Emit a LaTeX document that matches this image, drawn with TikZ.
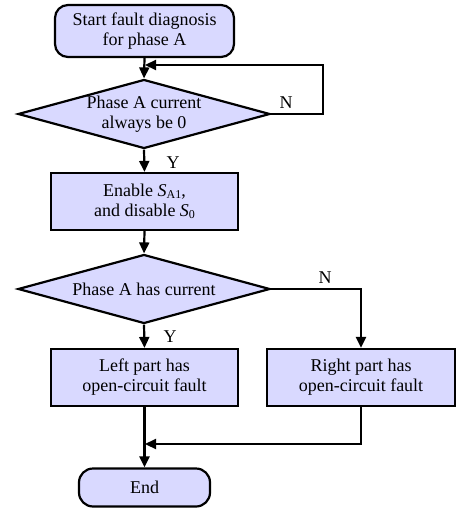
\documentclass[tikz,border=0pt]{standalone}
\usepackage{fontspec}
\setmainfont{Liberation Serif}
\usetikzlibrary{shapes.geometric,arrows.meta}
\definecolor{boxfill}{RGB}{217,217,255}
\newcommand{\subsc}[1]{\raisebox{-0.25ex}{\fontsize{12}{12}\selectfont #1}}
\begin{document}
\begin{tikzpicture}[x=1pt,y=-1pt,
  every node/.style={font=\fontsize{18}{20}\selectfont},
  base/.style={draw, line width=2.2pt, fill=boxfill, align=center, inner sep=0pt},
  term/.style={base, rectangle, rounded corners=13pt},
  procbox/.style={base, rectangle, minimum width=187pt, minimum height=57pt},
  decis/.style={base, diamond, aspect=3.6, minimum width=252pt, minimum height=69pt},
  arr/.style={line width=2.2pt, -{Triangle[width=10pt,length=11pt]}},
  lbl/.style={inner sep=0pt}
]
\useasboundingbox (0,0) rectangle (456,508);
\node[term, minimum width=179pt, minimum height=52pt] (start) at (144.5,31) {Start fault diagnosis\\for phase A};
\node[decis] (d1) at (144,114) {Phase A current\\always be 0};
\node[procbox] (p1) at (144.5,201.5) {Enable \textit{S}\subsc{A1},\\and disable \textit{S}\subsc{0}};
\node[decis] (d2) at (144,289) {Phase A has current};
\node[procbox] (left) at (144.5,377.5) {Left part has\\open-circuit fault};
\node[procbox, minimum width=188pt] (right) at (361,377.5) {Right part has\\open-circuit fault};
\node[term, minimum width=131pt, minimum height=38pt, rounded corners=14pt] (endn) at (144.5,487.5) {End};
\coordinate (loopin) at (145,65);
\coordinate (merge) at (145,444);
\draw[arr] (start.south) -- (d1.north);
\draw[arr] (d1.east) -- ++(52,0) |- (loopin);
\node[lbl] (n1) at (286,103) {N};
\draw[arr] (d1.south) -- (p1.north);
\node[lbl] (y1) at (173,163) {Y};
\draw[arr] (p1.south) -- (d2.north);
\draw[arr] (d2.east) -| (right.north);
\node[lbl] (n2) at (325,278) {N};
\draw[arr] (d2.south) -- (left.north);
\node[lbl] (y2) at (170,337) {Y};
\draw[arr] (left.south) -- (endn.north);
\draw[arr] (right.south) |- (merge);
\end{tikzpicture}
\end{document}
